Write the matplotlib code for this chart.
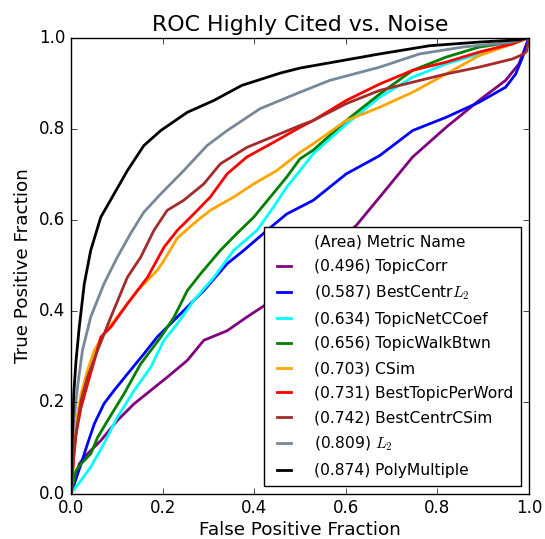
import matplotlib
matplotlib.use("Agg")
import matplotlib.pyplot as plt

# ROC curves (false positive fraction, true positive fraction)
fpr_topiccorr = [0, 0.004, 0.018, 0.036, 0.065, 0.101, 0.138, 0.174, 0.21, 0.254, 0.29, 0.341,
                 0.384, 0.428, 0.52, 0.623, 0.674, 0.746, 0.819, 0.891, 0.949, 0.978, 1.0]
tpr_topiccorr = [0, 0.02, 0.065, 0.087, 0.116, 0.16, 0.197, 0.226, 0.255, 0.292, 0.336, 0.357,
                 0.387, 0.416, 0.50, 0.588, 0.65, 0.738, 0.803, 0.862, 0.906, 0.942, 1.0]

fpr_bestcentr_l2 = [0, 0.022, 0.036, 0.051, 0.072, 0.094, 0.123, 0.159, 0.188, 0.217, 0.254, 0.29, 0.341,
                    0.377, 0.428, 0.471, 0.5, 0.529, 0.601, 0.674, 0.746, 0.819, 0.891, 0.949, 0.971, 0.986, 1.0]
tpr_bestcentr_l2 = [0, 0.065, 0.109, 0.153, 0.197, 0.226, 0.262, 0.306, 0.343, 0.372, 0.409, 0.445, 0.504,
                    0.533, 0.577, 0.613, 0.628, 0.643, 0.701, 0.741, 0.796, 0.825, 0.858, 0.891, 0.92, 0.957, 1.0]

fpr_topicnetccoef = [0, 0.022, 0.043, 0.072, 0.101, 0.138, 0.174, 0.203, 0.232, 0.268, 0.312, 0.355,
                     0.406, 0.442, 0.471, 0.5, 0.529, 0.601, 0.674, 0.746, 0.819, 0.891, 0.964, 1.0]
tpr_topicnetccoef = [0, 0.029, 0.058, 0.109, 0.167, 0.226, 0.277, 0.336, 0.372, 0.423, 0.474, 0.533,
                     0.577, 0.628, 0.672, 0.708, 0.745, 0.81, 0.869, 0.913, 0.942, 0.964, 0.986, 1.0]

fpr_topicwalkbtwn = [0, 0.011, 0.022, 0.043, 0.058, 0.08, 0.116, 0.152, 0.196, 0.225, 0.254, 0.283, 0.326,
                     0.362, 0.399, 0.435, 0.471, 0.5, 0.529, 0.601, 0.674, 0.746, 0.819, 0.891, 0.964, 1.0]
tpr_topicwalkbtwn = [0, 0.05, 0.065, 0.087, 0.123, 0.16, 0.219, 0.284, 0.343, 0.387, 0.445, 0.482, 0.533,
                     0.57, 0.606, 0.65, 0.694, 0.734, 0.753, 0.818, 0.876, 0.928, 0.957, 0.979, 0.99, 1.0]

fpr_csim = [0, 0.006, 0.011, 0.022, 0.036, 0.051, 0.072, 0.101, 0.145, 0.188, 0.203, 0.232, 0.268, 0.304,
            0.355, 0.399, 0.449, 0.5, 0.529, 0.601, 0.674, 0.746, 0.819, 0.891, 0.964, 1.0]
tpr_csim = [0, 0.08, 0.153, 0.219, 0.27, 0.314, 0.35, 0.387, 0.445, 0.489, 0.511, 0.56, 0.592, 0.621,
            0.65, 0.679, 0.708, 0.748, 0.767, 0.818, 0.847, 0.88, 0.92, 0.96, 0.986, 1.0]

fpr_besttopic = [0, 0.006, 0.011, 0.022, 0.036, 0.051, 0.065, 0.087, 0.123, 0.167, 0.203, 0.232, 0.268,
                 0.304, 0.341, 0.384, 0.442, 0.5, 0.529, 0.601, 0.674, 0.746, 0.819, 0.891, 0.964, 1.0]
tpr_besttopic = [0, 0.08, 0.131, 0.189, 0.24, 0.292, 0.343, 0.365, 0.416, 0.474, 0.54, 0.577, 0.613,
                 0.65, 0.701, 0.738, 0.77, 0.803, 0.818, 0.862, 0.898, 0.928, 0.946, 0.968, 0.986, 1.0]

fpr_bestcentr_csim = [0, 0.006, 0.011, 0.022, 0.036, 0.058, 0.087, 0.123, 0.152, 0.181, 0.21, 0.246, 0.29,
                      0.326, 0.384, 0.442, 0.5, 0.529, 0.601, 0.674, 0.746, 0.819, 0.891, 0.964, 0.989, 0.995, 1.0]
tpr_bestcentr_csim = [0, 0.09, 0.131, 0.204, 0.255, 0.314, 0.387, 0.474, 0.518, 0.577, 0.621, 0.643, 0.679,
                      0.723, 0.759, 0.783, 0.807, 0.818, 0.855, 0.884, 0.902, 0.92, 0.935, 0.953, 0.964, 0.97, 1.0]

fpr_l2 = [0, 0.002, 0.007, 0.015, 0.025, 0.043, 0.072, 0.101, 0.13, 0.159, 0.196, 0.246, 0.297, 0.341,
          0.413, 0.5, 0.565, 0.674, 0.761, 0.855, 0.963, 1.0]
tpr_l2 = [0, 0.1, 0.167, 0.24, 0.314, 0.387, 0.46, 0.518, 0.57, 0.617, 0.657, 0.708, 0.763, 0.796,
          0.844, 0.88, 0.906, 0.935, 0.964, 0.979, 0.99, 1.0]

fpr_polymultiple = [0, 0.002, 0.006, 0.011, 0.018, 0.029, 0.043, 0.065, 0.098, 0.123, 0.159, 0.196, 0.254,
                    0.312, 0.373, 0.457, 0.5, 0.674, 0.783, 0.891, 0.978, 1.0]
tpr_polymultiple = [0, 0.1, 0.219, 0.292, 0.365, 0.46, 0.533, 0.606, 0.664, 0.708, 0.763, 0.796, 0.836,
                    0.862, 0.895, 0.922, 0.933, 0.964, 0.982, 0.99, 0.995, 1.0]

labels = ['(0.496) TopicCorr', '(0.587) BestCentr$L_2$', '(0.634) TopicNetCCoef',
          '(0.656) TopicWalkBtwn', '(0.703) CSim', '(0.731) BestTopicPerWord',
          '(0.742) BestCentrCSim', '(0.809) $L_2$', '(0.874) PolyMultiple']
colors = ['purple', 'blue', 'cyan', 'green', 'orange', 'red', 'brown', 'lightslategray', 'black']

curves = [(fpr_topiccorr, tpr_topiccorr), (fpr_bestcentr_l2, tpr_bestcentr_l2),
          (fpr_topicnetccoef, tpr_topicnetccoef), (fpr_topicwalkbtwn, tpr_topicwalkbtwn),
          (fpr_csim, tpr_csim), (fpr_besttopic, tpr_besttopic),
          (fpr_bestcentr_csim, tpr_bestcentr_csim), (fpr_l2, tpr_l2),
          (fpr_polymultiple, tpr_polymultiple)]


def main():
    plt.style.use('classic')
    fig = plt.figure(figsize=(5.45, 5.39), dpi=100, facecolor='white')
    ax = fig.add_axes([0.1303, 0.0844, 0.8403, 0.846])

    # header row of the legend, no handle
    ax.plot([], [], ' ', label='(Area) Metric Name')
    for (fpr, tpr), lab, c in zip(curves, labels, colors):
        ax.plot(fpr, tpr, color=c, lw=2, label=lab)

    ax.set_xlim(0, 1)
    ax.set_ylim(0, 1)
    ax.tick_params(labelsize=12)
    ax.set_xlabel('False Positive Fraction', fontsize=13.2, labelpad=3)
    ax.set_ylabel('True Positive Fraction', fontsize=13.2)
    ax.set_title('ROC Highly Cited vs. Noise', fontsize=15.8)
    ax.legend(loc='lower right', fontsize=11.2, handlelength=1.5, handletextpad=1.2,
              labelspacing=0.62, borderpad=0.5)

    fig.savefig('out.png', dpi=100, facecolor='white')


if __name__ == "__main__":
    main()
